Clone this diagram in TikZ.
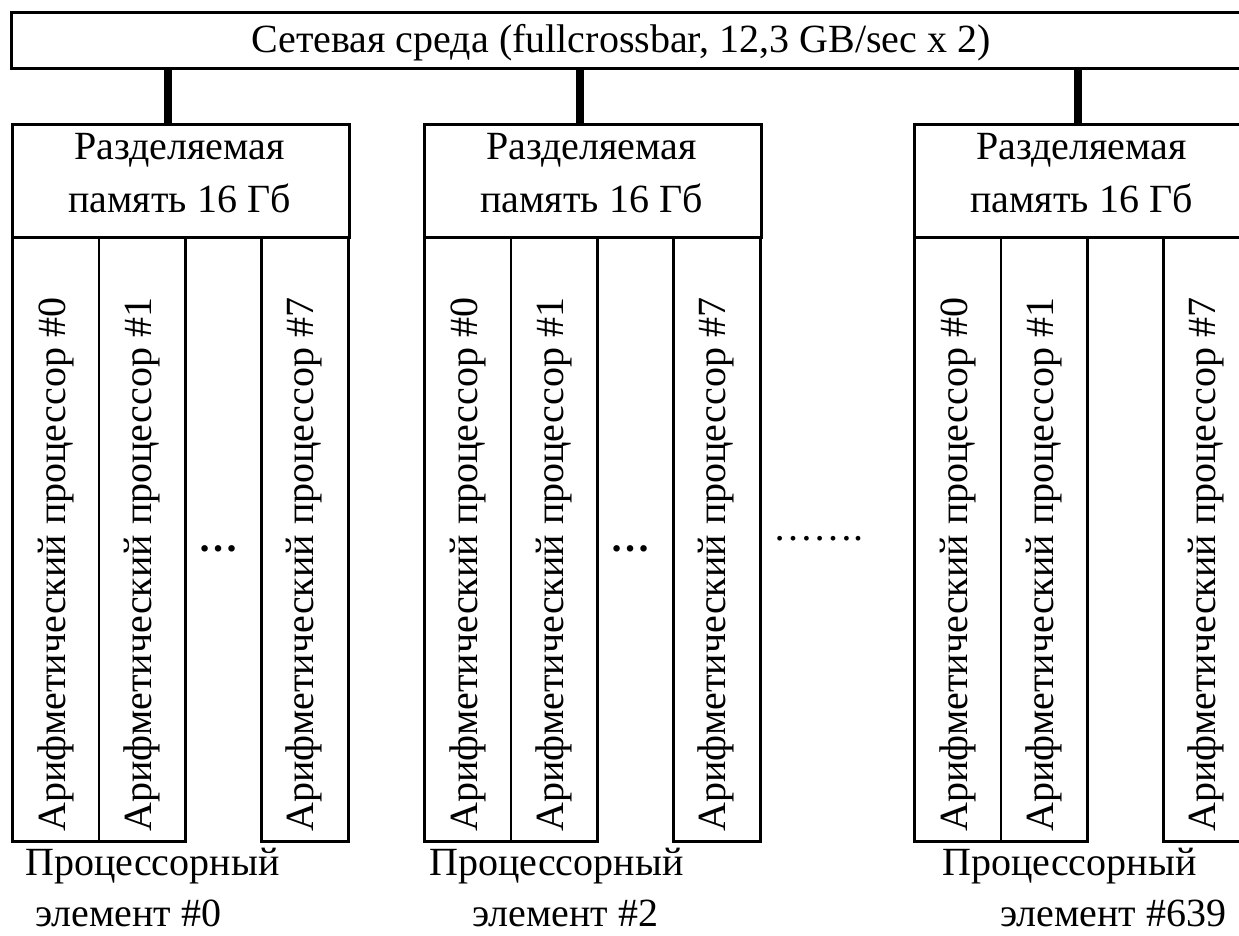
\documentclass[tikz,border=0pt]{standalone}
\usepackage{fontspec}
\setmainfont{Liberation Serif}
\begin{document}
\begin{tikzpicture}[x=1pt,y=-1pt,
  box/.style={draw, line width=2.6pt, inner sep=0pt, anchor=north west},
  lbl/.style={font=\fontsize{40}{53}\selectfont, inner sep=0pt},
  vlbl/.style={lbl, rotate=90, anchor=base west},
  link/.style={line width=7.5pt}]
\useasboundingbox (0,0) rectangle (1239,935);
\clip (0,0) rectangle (1239,935);

% network bar across the top
\node[box, minimum width=1250pt, minimum height=56pt] (net) at (10,11) {};
\node[lbl, anchor=base] (nettxt) at (621,52) {Сетевая среда (fullcrossbar, 12,3 GB/sec x 2)};

% processor elements: number / left edge / tap x / label x / number x / dots
\foreach \n/\L/\c/\a/\b/\hasdots in {0/11/168/25/35/1, 2/423/580/429/472/1, 639/913/1078/942/1000/0}{
  \node[box, minimum width=337pt, minimum height=113pt] (mem\n) at (\L,123) {};
  \node[lbl, align=center] (memtxt\n) at ({\L+168.5},173.5) {Разделяемая\\память 16 Гб};
  \coordinate (tap\n) at (\c,123);
  \draw[link] (tap\n |- net.south) -- (tap\n);
  \node[box, minimum width=86.5pt, minimum height=604pt] (pa\n) at (\L,236) {};
  \node[box, minimum width=86.5pt, minimum height=604pt] (pb\n) at ({\L+86.5},236) {};
  \node[box, minimum width=87pt, minimum height=604pt] (pc\n) at ({\L+249},236) {};
  \node[vlbl] (ta\n) at ({\L+54},832) {Арифметический процессор \#0};
  \node[vlbl] (tb\n) at ({\L+140},832) {Арифметический процессор \#1};
  \node[vlbl] (tc\n) at ({\L+302},832) {Арифметический процессор \#7};
  \ifnum\hasdots=1
    \node[lbl, anchor=base] (dots\n) at ({\L+207},551) {\textbf{…}};
  \fi
  \node[lbl, anchor=base west] (pe\n) at (\a,875) {Процессорный};
  \node[lbl, anchor=base west] (pn\n) at (\b,926) {элемент \#\n};
}

% ellipsis between the middle and the last element
\node[lbl, anchor=base] (gap) at (818.5,540) {…….};
\end{tikzpicture}
\end{document}
